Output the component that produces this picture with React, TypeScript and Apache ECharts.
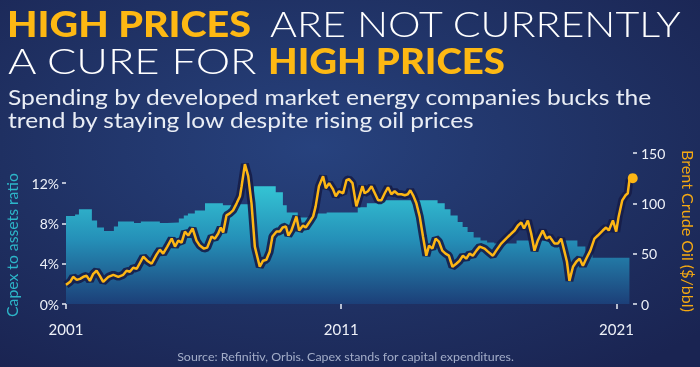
import React, { useEffect, useRef } from "react";
import * as echarts from "echarts";

// Capex to assets ratio (%), step series: value holds from its year until the next one
const capexYears = [2001.0, 2001.33, 2001.47, 2001.94, 2002.13, 2002.38, 2002.74, 2002.89, 2003.47, 2003.72, 2004.41, 2004.67, 2005.1, 2005.28, 2005.43, 2005.68, 2006.05, 2006.7, 2007.32, 2007.82, 2008.62, 2008.88, 2009.02, 2009.42, 2009.93, 2010.47, 2011.6, 2011.93, 2012.4, 2014.5, 2014.76, 2014.97, 2015.23, 2015.41, 2015.59, 2015.81, 2016.06, 2016.3, 2016.56, 2017.37, 2019.58, 2019.87, 2020.13, 2021.47];
const capexRatio = [8.75, 8.9, 9.4, 8.3, 7.6, 7.25, 7.7, 8.2, 8.05, 8.2, 8.05, 8.1, 8.5, 8.8, 9.0, 9.3, 10.0, 9.8, 9.9, 11.7, 11.1, 9.8, 9.1, 8.6, 9.0, 9.1, 9.6, 10.0, 10.3, 10.0, 9.4, 8.8, 8.15, 7.65, 7.15, 6.6, 6.3, 6.1, 6.0, 6.3, 5.7, 5.0, 4.6, 4.6];

// Brent crude oil ($/bbl)
const oilYears = [2001.0, 2001.15, 2001.26, 2001.39, 2001.51, 2001.63, 2001.75, 2001.87, 2001.99, 2002.11, 2002.23, 2002.35, 2002.54, 2002.72, 2002.9, 2003.08, 2003.2, 2003.32, 2003.44, 2003.57, 2003.69, 2003.81, 2003.95, 2004.11, 2004.29, 2004.41, 2004.53, 2004.68, 2004.84, 2004.96, 2005.08, 2005.2, 2005.32, 2005.44, 2005.6, 2005.74, 2005.86, 2006.01, 2006.13, 2006.29, 2006.41, 2006.53, 2006.62, 2006.71, 2006.83, 2006.95, 2007.07, 2007.2, 2007.32, 2007.38, 2007.5, 2007.62, 2007.74, 2007.86, 2008.04, 2008.16, 2008.28, 2008.4, 2008.5, 2008.65, 2008.77, 2008.87, 2008.99, 2009.08, 2009.19, 2009.37, 2009.47, 2009.61, 2009.71, 2009.86, 2009.98, 2010.07, 2010.19, 2010.34, 2010.44, 2010.56, 2010.7, 2010.8, 2010.92, 2011.07, 2011.19, 2011.28, 2011.41, 2011.55, 2011.67, 2011.77, 2011.85, 2011.97, 2012.1, 2012.22, 2012.34, 2012.46, 2012.58, 2012.7, 2012.82, 2012.94, 2013.06, 2013.19, 2013.31, 2013.42, 2013.51, 2013.61, 2013.73, 2013.85, 2013.97, 2014.09, 2014.19, 2014.31, 2014.43, 2014.55, 2014.67, 2014.79, 2014.91, 2015.04, 2015.18, 2015.3, 2015.42, 2015.54, 2015.66, 2015.78, 2015.91, 2016.03, 2016.21, 2016.33, 2016.51, 2016.63, 2016.81, 2016.99, 2017.18, 2017.3, 2017.42, 2017.54, 2017.64, 2017.78, 2017.9, 2018.02, 2018.14, 2018.32, 2018.45, 2018.57, 2018.75, 2018.87, 2018.99, 2019.11, 2019.2, 2019.29, 2019.42, 2019.54, 2019.66, 2019.78, 2019.9, 2020.05, 2020.2, 2020.32, 2020.5, 2020.62, 2020.72, 2020.87, 2020.99, 2021.08, 2021.21, 2021.33, 2021.41, 2021.47, 2021.59];
const oilPrices = [19, 22, 27, 24, 25, 27, 28, 23, 30, 33, 28, 22, 27, 29, 27, 29, 33, 32, 36, 35, 41, 47, 43, 40, 49, 54, 50, 57, 65, 57, 63, 61, 72, 68, 75, 63, 58, 55, 56, 67, 65, 70, 76, 71, 88, 90, 93, 100, 107, 117, 139, 127, 100, 57, 37, 43, 44, 52, 67, 72, 72, 76, 77, 68, 73, 87, 73, 78, 76, 82, 87, 97, 117, 127, 115, 120, 114, 107, 112, 110, 123, 124, 120, 97, 108, 117, 110, 112, 117, 110, 103, 103, 110, 116, 109, 112, 109, 109, 108, 109, 113, 108, 100, 87, 67, 48, 58, 55, 65, 62, 53, 50, 48, 37, 40, 43, 48, 45, 50, 48, 53, 57, 55, 52, 48, 53, 60, 65, 70, 73, 78, 81, 75, 83, 70, 53, 63, 73, 65, 67, 60, 60, 65, 52, 42, 23, 37, 42, 45, 38, 45, 53, 65, 68, 73, 76, 73, 83, 72, 87, 103, 108, 110, 123, 125];

const yearTicks = [2001, 2011, 2021];
const capexTicks = [0, 4, 8, 12];
const oilTicks = [0, 50, 100, 150];

const ORANGE = "#fdb614";
const TITLE_ORANGE = "#fdb813";
const TEAL = "#2db6c9";
const FONT = "Lato";

let measureCtx: CanvasRenderingContext2D | null = null;
function textWidth(text: string, weight: number, size: number): number {
  if (!measureCtx) measureCtx = document.createElement("canvas").getContext("2d");
  if (!measureCtx) return text.length * size * 0.55;
  measureCtx.font = `${weight} ${size}px ${FONT}`;
  return measureCtx.measureText(text).width;
}

// text element stretched horizontally to a given width
function fitText(
  text: string, x: number, y: number, width: number, size: number, weight: number, fill: string,
  align: "left" | "center" = "left", rotation = 0
) {
  const w = textWidth(text, weight, size);
  return {
    type: "text",
    x, y, rotation,
    scaleX: w > 0 ? width / w : 1,
    silent: true,
    style: { text, fontFamily: FONT, fontWeight: weight, fontSize: size, fill, align, verticalAlign: "middle" },
  };
}

export default function App() {
  const ref = useRef<HTMLDivElement>(null);
  useEffect(() => {
    if (!ref.current) return;
    const chart = echarts.init(ref.current, null, { renderer: "svg" });
    const capexData = capexYears.map((y, i) => [y, capexRatio[i]]);
    const oilData = oilYears.map((y, i) => [y, oilPrices[i]]);
    const last = oilData[oilData.length - 1];
    chart.setOption({
      animation: false,
      backgroundColor: new echarts.graphic.RadialGradient(0.45, 0.4, 0.75, [
        { offset: 0, color: "#27427e" },
        { offset: 0.6, color: "#1f3062" },
        { offset: 1, color: "#1a2452" },
      ]),
      grid: { left: 66, right: 67, top: 153, bottom: 63 },
      xAxis: {
        type: "value",
        min: 2001,
        max: 2021.6,
        axisLine: { show: false },
        splitLine: { show: false },
        axisTick: { show: true, customValues: yearTicks, length: 5, lineStyle: { color: "#e8ecf5", width: 1.5 } },
        axisLabel: { customValues: yearTicks, color: "#eef1f8", fontFamily: FONT, fontSize: 15, margin: 17, formatter: (v: number) => String(v) },
      },
      yAxis: [
        {
          type: "value",
          min: 0,
          max: 15,
          position: "left",
          axisLine: { show: false },
          splitLine: { show: false },
          axisTick: { show: true, customValues: capexTicks, length: 4, lineStyle: { color: "#e8ecf5", width: 1.5 } },
          axisLabel: { customValues: capexTicks, color: "#eef1f8", fontFamily: FONT, fontSize: 14, margin: 7, formatter: (v: number) => v + "%" },
        },
        {
          type: "value",
          min: 0,
          max: 150,
          interval: 50,
          position: "right",
          axisLine: { show: false },
          splitLine: { show: false },
          axisTick: { show: true, customValues: oilTicks, length: 4, lineStyle: { color: "#e8ecf5", width: 1.5 } },
          axisLabel: { customValues: oilTicks, color: "#eef1f8", fontFamily: FONT, fontSize: 14, margin: 8 },
        },
      ],
      series: [
        {
          type: "line",
          yAxisIndex: 0,
          step: "end",
          data: capexData,
          symbol: "none",
          lineStyle: { width: 0 },
          areaStyle: {
            opacity: 1,
            color: new echarts.graphic.LinearGradient(0, 0, 0, 1, [
              { offset: 0, color: "#34c4d4" },
              { offset: 0.45, color: "#2590b8" },
              { offset: 1, color: "#1c3f78" },
            ]),
          },
          z: 1,
        },
        {
          type: "line",
          yAxisIndex: 1,
          data: oilData,
          symbol: "none",
          lineStyle: { width: 8, color: "#161d48", opacity: 0.9 },
          z: 2,
        },
        {
          type: "line",
          yAxisIndex: 1,
          data: oilData,
          symbol: "none",
          lineStyle: { width: 2.5, color: ORANGE },
          z: 3,
        },
        {
          type: "scatter",
          yAxisIndex: 1,
          data: [last],
          symbolSize: 10,
          itemStyle: { color: ORANGE, opacity: 1 },
          z: 4,
        },
      ],
      graphic: [
        fitText("HIGH PRICES", 7, 23, 244, 36, 900, TITLE_ORANGE),
        fitText("ARE NOT CURRENTLY", 270, 23, 412, 36, 300, "#ffffff"),
        fitText("A CURE FOR", 8, 60, 250, 36, 300, "#ffffff"),
        fitText("HIGH PRICES", 268, 60, 237, 36, 900, TITLE_ORANGE),
        fitText("Spending by developed market energy companies bucks the", 8, 97, 645, 22, 400, "#e9edf5"),
        fitText("trend by staying low despite rising oil prices", 8, 119, 467, 22, 400, "#e9edf5"),
        fitText("Capex to assets ratio", 12, 245, 144, 15, 400, TEAL, "center", Math.PI / 2),
        fitText("Brent Crude Oil ($/bbl)", 688, 231, 162, 15, 400, "#f5a912", "center", -Math.PI / 2),
        fitText("Source: Refinitiv, Orbis. Capex stands for capital expenditures.", 345.5, 357, 337, 11.5, 400, "#a3adc8", "center"),
      ],
    });
    return () => chart.dispose();
  }, []);
  return <div ref={ref} style={{ position: "fixed", left: 0, top: 0, width: 700, height: 367 }} />;
}
